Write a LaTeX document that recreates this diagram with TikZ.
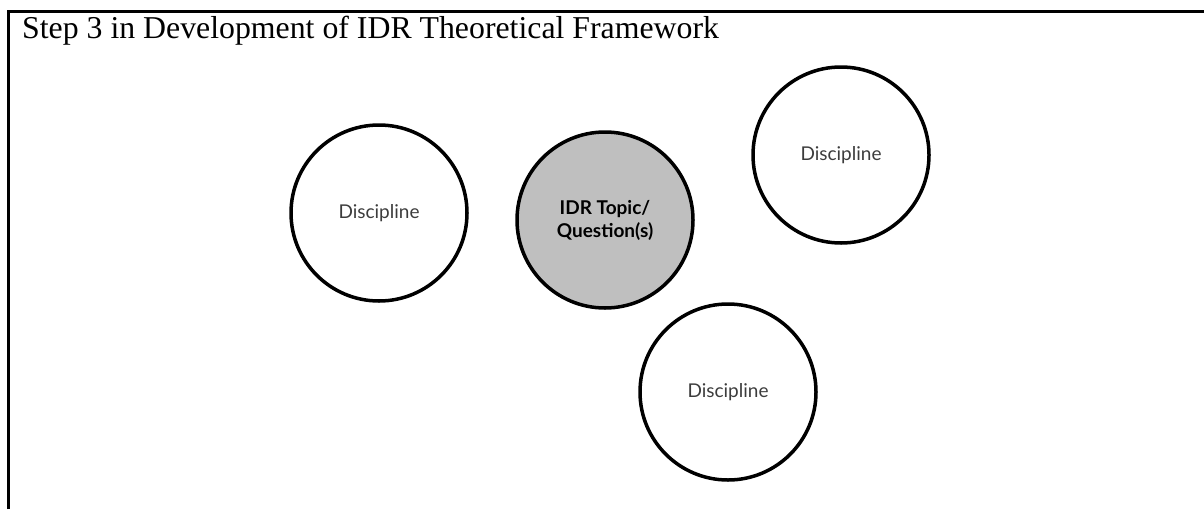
\documentclass[tikz,border=0pt]{standalone}
\usepackage{fontspec}
\setmainfont{Liberation Serif}
\newfontfamily\discfont{Lato}
\usepackage{xcolor}
\usepackage{tikz}
\definecolor{topicgray}{RGB}{191,191,191}
\definecolor{textgray}{RGB}{60,60,60}

\begin{document}
\begin{tikzpicture}[x=1pt,y=-1pt]
    \def\r{88pt}

    \tikzstyle{title}=[anchor=base west,inner sep=0pt,font=\fontsize{31.8}{36}\selectfont]
    \tikzstyle{disc}=[circle,draw=black,line width=3.5pt,minimum size=2*\r,inner sep=0pt,align=center,text=textgray,font=\discfont\fontsize{19}{22}\selectfont]
    \tikzstyle{topic}=[disc,fill=topicgray,text=black,font=\discfont\bfseries\fontsize{19}{23}\selectfont]
    \tikzstyle{frame}=[draw=black,line width=3pt]

    \useasboundingbox (0,0) rectangle (1204,509);

    \coordinate (fb) at (8,509);
    \coordinate (fc) at (8,11);
    \coordinate (fr) at (1204,11);
    \draw [frame] (fb) -- (fc) -- (fr);

    \node[title] (t) at (22,38) {Step 3 in Development of IDR Theoretical Framework};

    \node[disc]  (d1) at (379,213) {Discipline};
    \node[topic] (q)  at (605,220) {IDR Topic/\\Question(s)};
    \node[disc]  (d2) at (841,155) {Discipline};
    \node[disc]  (d3) at (728,392) {Discipline};

\end{tikzpicture}
\end{document}
